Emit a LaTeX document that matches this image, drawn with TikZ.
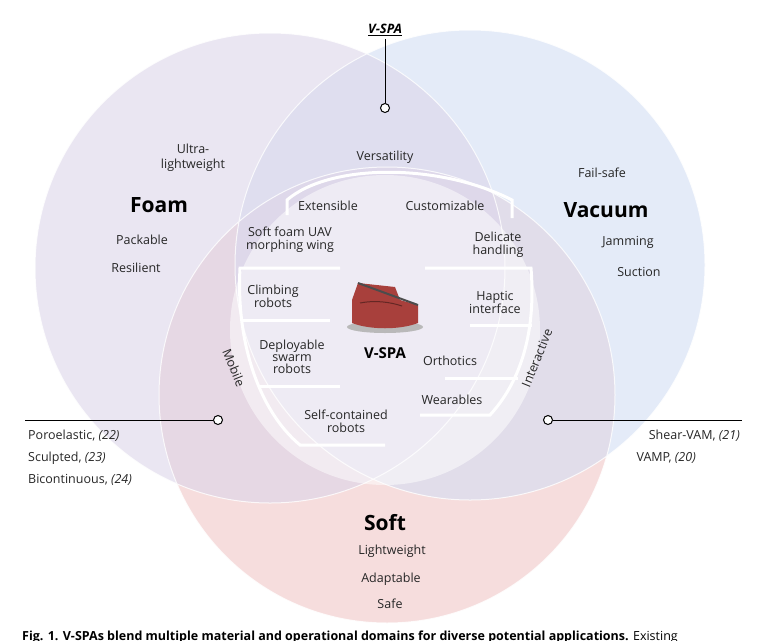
\documentclass[tikz,border=0pt]{standalone}
\usepackage{fontspec}
\setmainfont{Open Sans}
\definecolor{foamc}{HTML}{DCD6EA}
\definecolor{vacc}{HTML}{D3DEF4}
\definecolor{softc}{HTML}{F4D2D2}
\definecolor{objc}{HTML}{A8403C}
\begin{document}
\begin{tikzpicture}[x=1pt,y=-1pt,
  t/.style={font=\fontsize{12.5}{15}\selectfont, align=center, text=black!85, inner sep=1pt},
  big/.style={font=\fontsize{21}{24}\selectfont\bfseries, text=black},
  cite/.style={font=\fontsize{12.5}{15}\selectfont, text=black!85, inner sep=1pt},
  wl/.style={white, line width=3pt},
  conn/.style={black, line width=0.8pt},
  pin/.style={circle, draw=black, line width=1pt, fill=white, minimum size=9pt, inner sep=0pt}]
\useasboundingbox (0,0) rectangle (760,640);
\clip (0,0) rectangle (760,640);
\fill[white] (0,0) rectangle (760,640);
% circles
\fill[softc, opacity=0.75] (387,395) circle (228);
\fill[vacc, opacity=0.6] (470,265) circle (235);
\fill[foamc, opacity=0.6] (270,268) circle (235);
\draw[white, line width=1pt, opacity=0.8] (387,395) circle (228) (470,265) circle (235) (270,268) circle (235);
\fill[white, opacity=0.5] (385,330) circle (155);
% brackets
\draw[wl] (287,215) -- (287,200) .. controls (330,163) and (440,163) .. (512,200) -- (512,218);
\draw[wl] (340,268) -- (240,268) .. controls (236,340) and (258,410) .. (300,445) -- (385,445);
\draw[wl] (425,268) -- (531,268) .. controls (536,330) and (522,380) .. (490,415) -- (420,415);
\draw[wl] (241,320) -- (330,320);
\draw[wl] (258,386) -- (340,386);
\draw[wl] (470,325) -- (532,325);
\draw[wl] (445,378) -- (518,378);
% V-SPA object
\fill[gray!55] (385,327) ellipse (38 and 6);
\fill[objc] (352,300) -- (352,323) .. controls (370,330) and (400,330) .. (418,323) -- (418,305) -- (400,300) -- (395,287) -- (358,283) -- cycle;
\draw[objc!60!black, line width=1pt] (360,303) .. controls (375,300) and (390,302) .. (402,306);
\draw[black!70, line width=2pt] (358,283) -- (418,305);
% labels
\node[t] (ul) at (193,158) {Ultra-\\lightweight};
\node[big] (foam) at (159,205) {Foam};
\node[t] (pack) at (142,240) {Packable};
\node[t] (res) at (136,268) {Resilient};
\node[t] (fs) at (602,173) {Fail-safe};
\node[big] (vac) at (606,210) {Vacuum};
\node[t] (jam) at (628,242) {Jamming};
\node[t] (suc) at (639,272) {Suction};
\node[t] (ver) at (385,157) {Versatility};
\node[t] (ext) at (328,206) {Extensible};
\node[t] (cus) at (445,206) {Customizable};
\node[t] (uav) at (290,240) {Soft foam UAV\\[-2pt]morphing wing};
\node[t] (del) at (498,245) {Delicate\\[-2pt]handling};
\node[t] (cli) at (273,296) {Climbing\\[-2pt]robots};
\node[t] (hap) at (495,302) {Haptic\\[-2pt]interface};
\node[t] (dep) at (292,357) {Deployable\\[-3pt]swarm\\[-3pt]robots};
\node[font=\fontsize{15}{18}\selectfont\bfseries] (vspa) at (385,353) {V-SPA};
\node[t] (ort) at (450,361) {Orthotics};
\node[t] (wea) at (452,400) {Wearables};
\node[t] (sel) at (346,421) {Self-contained\\[-2pt]robots};
\node[t, rotate=-68] (mob) at (234,368) {Mobile};
\node[t, rotate=68] (int) at (537,358) {Interactive};
\node[big] (soft) at (385,523) {Soft};
\node[t] (lw) at (392,551) {Lightweight};
\node[t] (ad) at (391,579) {Adaptable};
\node[t] (safe) at (390,604) {Safe};
% connectors
\node[font=\fontsize{13}{15}\selectfont\bfseries\itshape] (top) at (385,30) {\underline{V-SPA}};
\node[pin] (p1) at (385,108) {};
\draw[conn] (top) -- (p1);
\node[pin] (p2) at (218,420) {};
\coordinate (l) at (25,420);
\draw[conn] (l) -- (p2);
\node[pin] (p3) at (548,420) {};
\coordinate (r) at (742,420);
\draw[conn] (p3) -- (r);
\node[cite, anchor=west] (c22) at (27,436) {Poroelastic, \textit{(22)}};
\node[cite, anchor=west] (c23) at (27,458) {Sculpted, \textit{(23)}};
\node[cite, anchor=west] (c24) at (27,480) {Bicontinuous, \textit{(24)}};
\node[cite, anchor=east] (c21) at (741,436) {Shear-VAM, \textit{(21)}};
\node[cite, anchor=east] (c20) at (697,458) {VAMP, \textit{(20)}};
\node[anchor=north west, font=\fontsize{12.5}{15}\selectfont, inner sep=0pt] (cap) at (22,631) {\textbf{Fig. 1. V-SPAs blend multiple material and operational domains for diverse potential applications.} Existing};
\end{tikzpicture}
\end{document}
